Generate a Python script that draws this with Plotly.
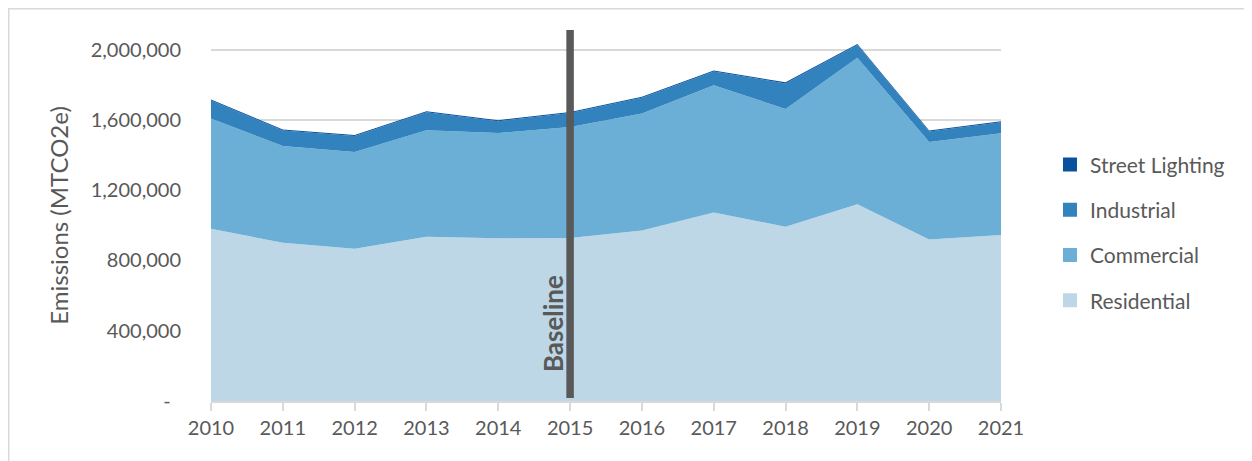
import plotly.graph_objects as go

years = [2010, 2011, 2012, 2013, 2014, 2015, 2016, 2017, 2018, 2019, 2020, 2021]
residential = [980000, 900000, 866000, 934000, 926000, 928000, 970000, 1073000, 991000, 1120000, 919000, 945000]
commercial = [627000, 551000, 551000, 607000, 599000, 631000, 666000, 724000, 671000, 833000, 555000, 578000]
industrial = [103000, 88000, 91000, 102000, 67000, 80000, 89000, 78000, 145000, 72000, 59000, 63000]
street_lighting = [6000, 6000, 6000, 6000, 6000, 6000, 6000, 6000, 6000, 6000, 6000, 6000]

series_names = ["Residential", "Commercial", "Industrial", "Street Lighting"]
series_values = [residential, commercial, industrial, street_lighting]
series_colors = ["#BDD7E7", "#6BAED6", "#3182BD", "#08519C"]

y_tickvals = [0, 400000, 800000, 1200000, 1600000, 2000000]
y_ticktext = ["-\u00a0\u00a0", "400,000", "800,000", "1,200,000", "1,600,000", "2,000,000"]
baseline_year = 2015

FONT = "Lato"
GREY = "#595959"

fig = go.Figure()
for name, vals, col in zip(series_names, series_values, series_colors):
    fig.add_trace(go.Scatter(
        x=years, y=vals, name=name, mode="none", stackgroup="one",
        fillcolor=col, showlegend=False,
    ))
# legend entries with square swatches (top: Street Lighting)
for rank, (name, col) in enumerate(zip(series_names, series_colors)):
    fig.add_trace(go.Scatter(
        x=[None], y=[None], name=name, mode="markers",
        marker=dict(symbol="square", size=14, color=col),
        legendgroup=name, legendrank=100 - rank,
    ))

fig.add_shape(type="line", xref="x", yref="paper", x0=baseline_year, x1=baseline_year,
              y0=0.008, y1=1.0, line=dict(color=GREY, width=7.5))
fig.add_annotation(x=baseline_year, xref="x", y=438000, yref="y", text="<b>Baseline</b>",
                   textangle=-90, showarrow=False, xshift=-17,
                   font=dict(family=FONT, size=26, color=GREY))

# outer chart border (top-left edge)
fig.add_shape(type="rect", xref="paper", yref="paper",
              x0=-0.256, x1=1.4, y0=-0.3, y1=1.057,
              line=dict(color="#D9D9D9", width=1.5), layer="below")

fig.update_layout(
    width=1244, height=453,
    margin=dict(l=203, r=251, t=22, b=60),
    paper_bgcolor="white", plot_bgcolor="white",
    font=dict(family=FONT, size=20, color=GREY),
    showlegend=True,
    legend=dict(x=1.062, y=0.692, xanchor="left", yanchor="top",
                traceorder="grouped", tracegroupgap=15,
                font=dict(family=FONT, size=21, color=GREY),
                itemwidth=30, bgcolor="rgba(0,0,0,0)"),
    xaxis=dict(range=[2010, 2021], tickvals=years, ticktext=[str(y) for y in years],
               showgrid=False, showline=True, linecolor="#D9D9D9", linewidth=1.5,
               ticks="outside", ticklen=8, tickcolor="#D9D9D9", tickwidth=1.5,
               tickfont=dict(family=FONT, size=20, color=GREY), zeroline=False,
               automargin=False),
    yaxis=dict(range=[0, 2111000], tickvals=y_tickvals, ticktext=y_ticktext,
               showgrid=True, gridcolor="#D9D9D9", gridwidth=1.5, zeroline=False,
               showline=False, ticks="", ticklabelstandoff=29, automargin=False,
               tickfont=dict(family=FONT, size=20, color=GREY),
               title=dict(text="Emissions (MTCO2e)", standoff=15,
                          font=dict(family=FONT, size=24, color=GREY))),
)

fig.write_html("out.html")
